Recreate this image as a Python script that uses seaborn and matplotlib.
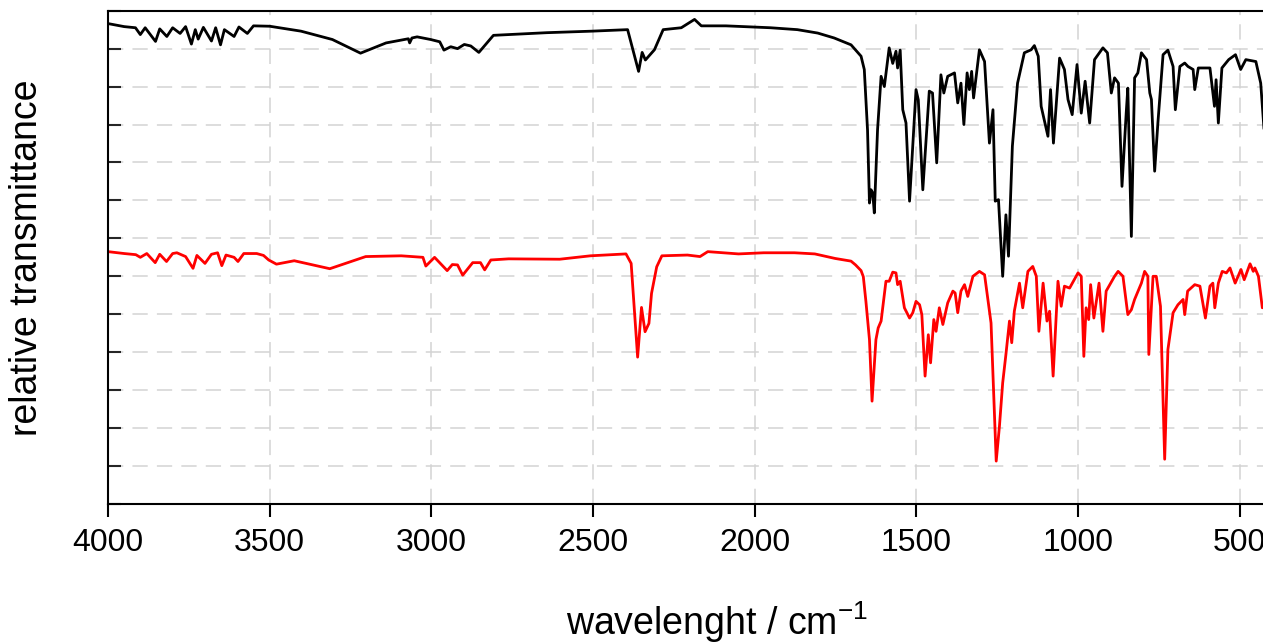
import numpy as np
import pandas as pd
import matplotlib
matplotlib.use('Agg')
import matplotlib.pyplot as plt
import seaborn as sns

##### data (wavenumber / cm-1, relative units)
wn_black = [4000, 3950, 3915, 3900, 3885, 3853, 3840, 3818, 3800, 3777, 3760, 3742,
            3730, 3721, 3705, 3680, 3667, 3652, 3640, 3610, 3595, 3569, 3550, 3500,
            3403, 3306, 3219, 3140, 3071, 3067, 3060, 3044, 3002, 2974, 2961, 2940,
            2919, 2898, 2878, 2853, 2808, 2643, 2504, 2393, 2359, 2348, 2338, 2310,
            2283, 2227, 2186, 2165, 2089, 1951, 1868, 1805, 1754, 1702, 1671, 1661,
            1651, 1645, 1640, 1635, 1630, 1620, 1609, 1599, 1584, 1573, 1563, 1558,
            1550, 1542, 1532, 1521, 1501, 1494, 1480, 1460, 1450, 1437, 1424, 1415,
            1403, 1382, 1372, 1362, 1353, 1343, 1336, 1329, 1323, 1305, 1289, 1274,
            1263, 1256, 1246, 1233, 1223, 1215, 1203, 1187, 1166, 1145, 1135, 1123,
            1114, 1093, 1085, 1076, 1057, 1042, 1031, 1018, 1003, 990, 978, 964,
            949, 923, 909, 897, 887, 875, 864, 851, 846, 835, 825, 815,
            804, 788, 778, 773, 763, 753, 737, 722, 706, 699, 685, 670,
            660, 644, 639, 628, 592, 578, 573, 566, 555, 534, 513, 497,
            481, 450, 435, 421]
t_black = [12.66, 12.58, 12.55, 12.37, 12.55, 12.19, 12.52, 12.32, 12.55, 12.40, 12.58, 12.12,
           12.50, 12.25, 12.56, 12.20, 12.55, 12.10, 12.50, 12.32, 12.57, 12.40, 12.60, 12.59,
           12.46, 12.24, 11.88, 12.15, 12.26, 12.15, 12.28, 12.31, 12.24, 12.18, 11.96, 12.05,
           12.00, 12.11, 12.07, 11.90, 12.35, 12.42, 12.46, 12.50, 11.40, 11.90, 11.70, 11.97,
           12.50, 12.55, 12.77, 12.60, 12.60, 12.55, 12.50, 12.41, 12.28, 12.10, 11.80, 11.45,
           9.86, 7.93, 8.28, 8.20, 7.67, 9.86, 11.27, 11.00, 12.02, 11.61, 11.93, 11.49,
           11.96, 10.39, 10.04, 7.98, 10.92, 10.65, 8.28, 10.88, 10.83, 8.99, 11.31, 10.83,
           11.27, 11.36, 10.57, 11.09, 10.00, 11.36, 10.92, 11.40, 10.70, 11.97, 11.66, 9.51,
           10.39, 7.98, 8.02, 6.00, 7.62, 6.53, 9.43, 11.09, 11.89, 11.97, 12.08, 11.80,
           10.48, 9.69, 10.92, 9.51, 11.75, 11.45, 10.66, 10.26, 11.58, 10.30, 11.14, 10.04,
           11.71, 12.02, 11.89, 10.83, 11.23, 11.09, 8.37, 10.30, 10.96, 7.05, 11.23, 11.36,
           11.89, 11.71, 10.83, 10.66, 8.77, 10.04, 11.84, 11.96, 11.53, 10.39, 11.53, 11.62,
           11.53, 11.45, 10.92, 11.49, 11.49, 10.48, 11.18, 10.04, 11.49, 11.71, 11.84, 11.45,
           11.71, 11.66, 11.09, 9.43]

wn_red = [4000, 3950, 3914, 3900, 3880, 3854, 3840, 3819, 3800, 3787, 3760, 3737,
          3725, 3700, 3680, 3661, 3648, 3635, 3610, 3598, 3580, 3540, 3519, 3503,
          3479, 3424, 3314, 3203, 3093, 3026, 3017, 2990, 2951, 2935, 2919, 2903,
          2872, 2848, 2835, 2816, 2761, 2603, 2508, 2398, 2382, 2362, 2350, 2339,
          2327, 2319, 2303, 2287, 2208, 2169, 2145, 2050, 1972, 1877, 1814, 1751,
          1702, 1688, 1671, 1664, 1656, 1645, 1637, 1625, 1618, 1609, 1594, 1584,
          1573, 1563, 1558, 1550, 1537, 1521, 1511, 1501, 1490, 1483, 1473, 1463,
          1456, 1446, 1439, 1429, 1418, 1403, 1387, 1380, 1372, 1362, 1351, 1341,
          1325, 1305, 1289, 1269, 1253, 1243, 1233, 1223, 1212, 1205, 1197, 1181,
          1171, 1155, 1140, 1129, 1121, 1108, 1096, 1088, 1077, 1062, 1052, 1042,
          1026, 1000, 990, 982, 975, 967, 961, 951, 935, 923, 913, 887,
          876, 861, 846, 835, 825, 804, 794, 784, 781, 768, 758, 745,
          732, 722, 706, 691, 675, 670, 661, 639, 623, 606, 592, 583,
          577, 566, 554, 541, 530, 514, 496, 486, 468, 458, 453, 442,
          430, 423]
t_red = [6.65, 6.60, 6.57, 6.50, 6.60, 6.36, 6.58, 6.39, 6.60, 6.62, 6.52, 6.21,
         6.55, 6.34, 6.58, 6.62, 6.28, 6.56, 6.50, 6.39, 6.60, 6.60, 6.55, 6.43,
         6.32, 6.41, 6.20, 6.52, 6.54, 6.50, 6.27, 6.50, 6.15, 6.31, 6.30, 6.03,
         6.36, 6.36, 6.17, 6.43, 6.46, 6.45, 6.54, 6.59, 6.34, 3.87, 5.18, 4.54,
         4.76, 5.55, 6.25, 6.54, 6.56, 6.52, 6.65, 6.59, 6.62, 6.62, 6.59, 6.47,
         6.40, 6.30, 6.15, 5.99, 5.34, 4.33, 2.71, 4.33, 4.64, 4.82, 5.87, 5.87,
         6.11, 6.09, 5.78, 5.87, 5.17, 4.90, 5.04, 5.34, 5.25, 4.99, 3.37, 4.46,
         3.72, 4.86, 4.55, 5.17, 4.73, 5.30, 5.61, 5.56, 5.04, 5.61, 5.78, 5.47,
         6.00, 6.13, 6.04, 4.77, 1.13, 2.05, 3.19, 3.94, 4.82, 4.25, 5.08, 5.82,
         5.17, 6.13, 6.26, 6.00, 4.55, 5.82, 4.82, 5.08, 3.37, 5.87, 5.21, 5.74,
         5.69, 6.09, 6.00, 3.89, 5.17, 4.86, 5.78, 4.90, 5.82, 4.55, 5.61, 6.00,
         6.13, 6.00, 4.99, 5.12, 5.39, 5.82, 6.13, 6.00, 3.94, 6.00, 6.00, 5.21,
         1.18, 4.07, 5.04, 5.25, 5.39, 4.99, 5.61, 5.78, 5.74, 4.90, 5.74, 5.82,
         5.17, 5.82, 6.13, 6.09, 6.22, 5.82, 6.18, 5.91, 6.33, 6.13, 6.22, 6.00,
         5.17, 5.21]

x_ticks = [4000, 3500, 3000, 2500, 2000, 1500, 1000, 500]

df_black = pd.DataFrame({"wn": wn_black, "t": t_black})
df_red = pd.DataFrame({"wn": wn_red, "t": t_red})

sns.set_theme(style="ticks")
plt.rcParams['font.family'] = ['Liberation Sans', 'DejaVu Sans']
plt.rcParams['mathtext.default'] = 'regular'
plt.rcParams['text.color'] = 'black'
plt.rcParams['axes.labelcolor'] = 'black'

fig = plt.figure(figsize=(12.63, 6.43), dpi=100)
# axes runs past the right edge of the figure, as in the reference
ax = fig.add_axes([0.0855, 0.2162, 0.9644, 0.7672])

sns.lineplot(data=df_black, x="wn", y="t", color="black", lw=2.0,
             estimator=None, sort=False, ax=ax)
sns.lineplot(data=df_red, x="wn", y="t", color="#ff0000", lw=2.0,
             estimator=None, sort=False, ax=ax)

ax.set_xlim(4000, 233)
ax.set_ylim(0, 13)
ax.set_xticks(x_ticks)
ax.set_yticks(np.arange(0, 14))
ax.set_yticklabels([])

ax.grid(True, color="#d3d3d3", lw=1.1, linestyle=(0, (10, 6)))
ax.set_axisbelow(True)

for s in ["left", "bottom", "top"]:
    ax.spines[s].set_linewidth(1.5)
    ax.spines[s].set_color("black")
ax.spines["right"].set_visible(False)

ax.tick_params(axis="x", direction="out", length=9, width=1.5, pad=8,
               labelsize=23, colors="black")
ax.tick_params(axis="y", direction="in", length=9, width=1.5, left=True)

ax.set_xlabel("wavelenght / cm$^{-1}$", fontsize=27, labelpad=30)
ax.set_ylabel("relative transmittance", fontsize=27, labelpad=42)

fig.savefig("out.png", dpi=100)
